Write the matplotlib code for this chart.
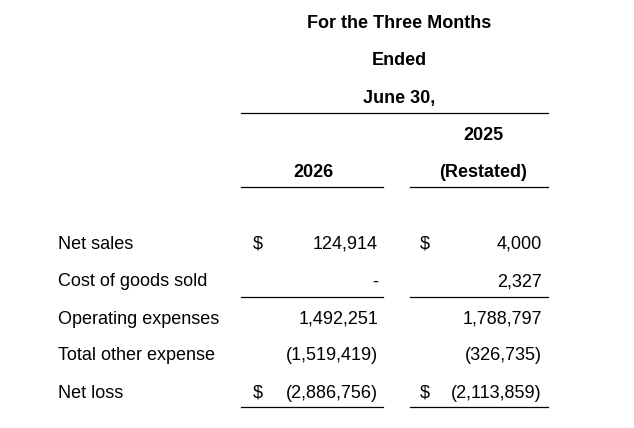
import matplotlib
matplotlib.use("Agg")
import matplotlib.pyplot as plt

plt.rcParams['font.family'] = ['Liberation Sans', 'DejaVu Sans']

header_lines = ["For the Three Months", "Ended", "June 30,"]
col_heads = [["", "2026"], ["2025", "(Restated)"]]
row_labels = ["Net sales", "Cost of goods sold", "Operating expenses", "Total other expense", "Net loss"]
vals_2026 = ["124,914", "-", "1,492,251", "(1,519,419)", "(2,886,756)"]
vals_2025 = ["4,000", "2,327", "1,788,797", "(326,735)", "(2,113,859)"]
dollar_rows = [0, 4]

fig = plt.figure(figsize=(6.34, 4.28), dpi=100)
ax = fig.add_axes([0, 0, 1, 1])
ax.set_xlim(0, 634); ax.set_ylim(428, 0); ax.axis('off')
fs = 13
for i, h in enumerate(header_lines):
    ax.text(399, 23 + i * 37.5, h, ha='center', va='center', fontsize=fs, fontweight='bold')
ax.plot([241, 548], [113, 113], color='black', lw=0.9)
for cx, heads in zip([313, 483], col_heads):
    for j, h in enumerate(heads):
        ax.text(cx, 135 + j * 37, h, ha='center', va='center', fontsize=fs, fontweight='bold')
for x0, x1 in [(241, 383), (410, 548)]:
    ax.plot([x0, x1], [187, 187], color='black', lw=0.9)
    ax.plot([x0, x1], [297, 297], color='black', lw=0.9)
    ax.plot([x0, x1], [407, 407], color='black', lw=0.9)
ys = [244, 282, 319, 356, 393]
for i, (lab, a, b) in enumerate(zip(row_labels, vals_2026, vals_2025)):
    y = ys[i]
    ax.text(58, y, lab, ha='left', va='center', fontsize=fs)
    ax.text(378, y, a, ha='right', va='center', fontsize=fs)
    ax.text(542, y, b, ha='right', va='center', fontsize=fs)
    if i in dollar_rows:
        ax.text(253, y, "$", ha='left', va='center', fontsize=fs)
        ax.text(420, y, "$", ha='left', va='center', fontsize=fs)
fig.savefig("out.png", dpi=100, facecolor='white')
